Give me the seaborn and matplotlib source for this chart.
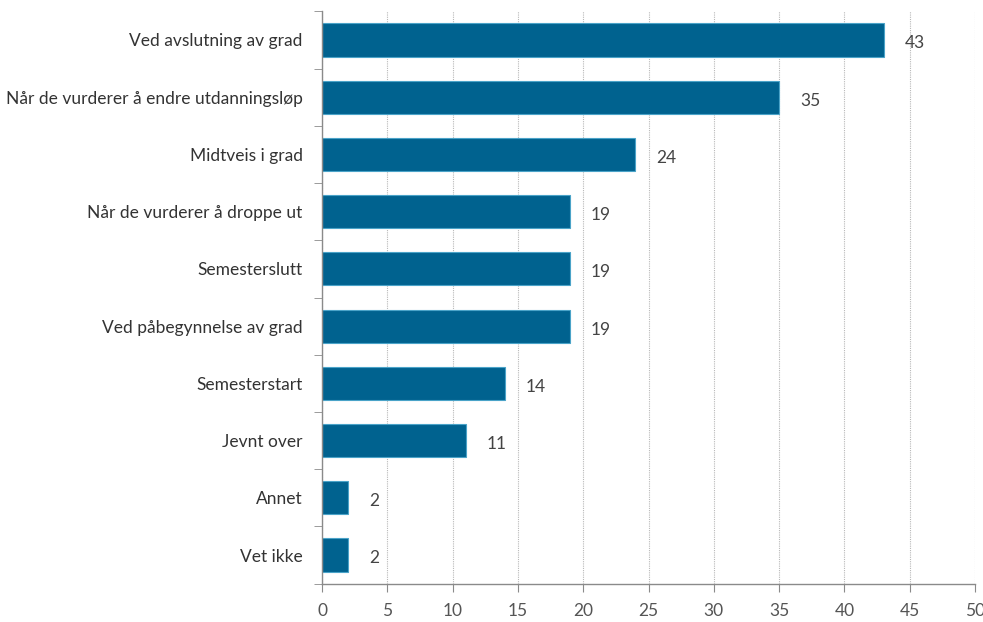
import matplotlib
matplotlib.use("Agg")
import matplotlib.pyplot as plt
import seaborn as sns
import pandas as pd
from matplotlib.ticker import FixedLocator

categories = [
    "Ved avslutning av grad",
    "Når de vurderer å endre utdanningsløp",
    "Midtveis i grad",
    "Når de vurderer å droppe ut",
    "Semesterslutt",
    "Ved påbegynnelse av grad",
    "Semesterstart",
    "Jevnt over",
    "Annet",
    "Vet ikke",
]
values = [43, 35, 24, 19, 19, 19, 14, 11, 2, 2]
x_ticks = [0, 5, 10, 15, 20, 25, 30, 35, 40, 45, 50]

df = pd.DataFrame({"kategori": categories, "verdi": values})

sns.set_style("white")
plt.rcParams["font.family"] = ["Lato", "DejaVu Sans"]

fig = plt.figure(figsize=(9.83, 6.22), dpi=100)
ax = fig.add_axes([0.3276, 0.0617, 0.6643, 0.92])

bar_color = "#00628f"
sns.barplot(data=df, x="verdi", y="kategori", orient="h", color=bar_color,
            width=0.58, saturation=1, edgecolor="#4aa3c8", linewidth=0.8, ax=ax)

for i, v in enumerate(values):
    ax.text(v + 1.6, i + 0.06, str(v), va="center", ha="left", fontsize=12.5, color="#444444")

ax.set_xlim(0, 50)
ax.set_ylim(len(categories) - 0.5, -0.5)
ax.set_xticks(x_ticks)
ax.set_xticklabels([str(t) for t in x_ticks])
ax.set_xlabel("")
ax.set_ylabel("")

ax.xaxis.grid(True, linestyle=(0, (1, 1)), color="#b8b8b8", linewidth=0.8)
ax.set_axisbelow(True)

for side in ["top", "right"]:
    ax.spines[side].set_visible(False)
for side in ["left", "bottom"]:
    ax.spines[side].set_color("#8a8a8a")
    ax.spines[side].set_linewidth(1.0)

# category labels on major ticks without marks, separators as minor ticks
ax.yaxis.set_minor_locator(FixedLocator([i + 0.5 for i in range(-1, len(categories))]))
ax.tick_params(axis="y", which="major", length=0, pad=14, labelsize=12.5, labelcolor="#333333")
ax.tick_params(axis="y", which="minor", length=6, color="#8a8a8a", direction="out", left=True)
ax.tick_params(axis="x", which="major", length=6, color="#8a8a8a", direction="out", bottom=True,
               labelsize=12.5, labelcolor="#555555", pad=8)

fig.savefig("out.png", dpi=100)
